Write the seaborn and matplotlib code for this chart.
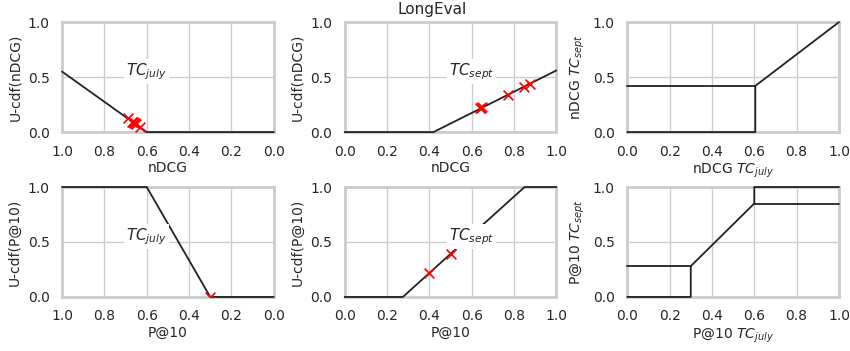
import matplotlib
matplotlib.use("Agg")
import matplotlib.pyplot as plt
import seaborn as sns
import pandas as pd

# U-cdf curves (vertices)
ndcg_july_x = [1.0, 0.6, 0.0]
ndcg_july_y = [0.55, 0.0, 0.0]
ndcg_july_pts_x = [0.69, 0.67, 0.665, 0.66, 0.655, 0.65, 0.63]
ndcg_july_pts_y = [0.125, 0.095, 0.09, 0.085, 0.08, 0.07, 0.045]

ndcg_sept_x = [0.0, 0.42, 1.0]
ndcg_sept_y = [0.0, 0.0, 0.56]
ndcg_sept_pts_x = [0.64, 0.645, 0.65, 0.77, 0.845, 0.875]
ndcg_sept_pts_y = [0.215, 0.22, 0.225, 0.335, 0.41, 0.44]

p10_july_x = [1.0, 0.6, 0.3, 0.0]
p10_july_y = [1.0, 1.0, 0.0, 0.0]
p10_july_pts_x = [0.3]
p10_july_pts_y = [0.0]

p10_sept_x = [0.0, 0.275, 0.85, 1.0]
p10_sept_y = [0.0, 0.0, 1.0, 1.0]
p10_sept_pts_x = [0.4, 0.5]
p10_sept_pts_y = [0.22, 0.39]

# july -> sept mappings
ndcg_map_a_x = [0.0, 0.605, 0.605, 1.0]
ndcg_map_a_y = [0.0, 0.0, 0.42, 1.0]
ndcg_map_b_x = [0.0, 0.605]
ndcg_map_b_y = [0.42, 0.42]

p10_map_a_x = [0.0, 0.3, 0.3, 0.6, 0.6, 1.0]
p10_map_a_y = [0.0, 0.0, 0.28, 0.85, 1.0, 1.0]
p10_map_b_x = [0.0, 0.3]
p10_map_b_y = [0.28, 0.28]
p10_map_c_x = [0.6, 1.0]
p10_map_c_y = [0.85, 0.85]

sns.set_theme(style="whitegrid")
plt.rcParams.update({
    "font.family": ["DejaVu Sans"],
    "font.size": 10,
    "axes.labelsize": 10,
    "xtick.labelsize": 10,
    "ytick.labelsize": 10,
    "axes.linewidth": 2.0,
    "axes.edgecolor": "#cccccc",
    "grid.color": "#cccccc",
    "grid.linewidth": 1.0,
})

fig, axes = plt.subplots(2, 3, figsize=(8.5, 3.51), dpi=100)
fig.subplots_adjust(left=0.073, right=0.987, top=0.937, bottom=0.154,
                    wspace=0.335, hspace=0.5)

line_kw = dict(color="#222222", linewidth=1.3, sort=False, estimator=None,
               zorder=3, clip_on=False)
pt_kw = dict(color="red", marker="x", s=50, linewidth=1.2, zorder=4)


def line(ax, xs, ys):
    sns.lineplot(data=pd.DataFrame({"x": xs, "y": ys}), x="x", y="y", ax=ax, **line_kw)


def pts(ax, xs, ys):
    sns.scatterplot(data=pd.DataFrame({"x": xs, "y": ys}), x="x", y="y", ax=ax, **pt_kw)


def label(ax, s):
    ax.text(0.6, 0.55, s, ha="center", va="center", fontsize=11, zorder=5,
            bbox=dict(facecolor="white", edgecolor="none", pad=1.5))


# top-left
ax = axes[0, 0]
line(ax, ndcg_july_x, ndcg_july_y)
pts(ax, ndcg_july_pts_x, ndcg_july_pts_y)
label(ax, r"$TC_{july}$")
ax.set_xlim(1.0, 0.0)
ax.set_xlabel("nDCG")
ax.set_ylabel("U-cdf(nDCG)")

# top-middle
ax = axes[0, 1]
line(ax, ndcg_sept_x, ndcg_sept_y)
pts(ax, ndcg_sept_pts_x, ndcg_sept_pts_y)
label(ax, r"$TC_{sept}$")
ax.set_xlim(0.0, 1.0)
ax.set_xlabel("nDCG")
ax.set_ylabel("U-cdf(nDCG)")

# top-right
ax = axes[0, 2]
line(ax, ndcg_map_a_x, ndcg_map_a_y)
line(ax, ndcg_map_b_x, ndcg_map_b_y)
ax.set_xlim(0.0, 1.0)
ax.set_xlabel(r"nDCG $TC_{july}$")
ax.set_ylabel(r"nDCG $TC_{sept}$")

# bottom-left
ax = axes[1, 0]
line(ax, p10_july_x, p10_july_y)
pts(ax, p10_july_pts_x, p10_july_pts_y)
label(ax, r"$TC_{july}$")
ax.set_xlim(1.0, 0.0)
ax.set_xlabel("P@10")
ax.set_ylabel("U-cdf(P@10)")

# bottom-middle
ax = axes[1, 1]
line(ax, p10_sept_x, p10_sept_y)
pts(ax, p10_sept_pts_x, p10_sept_pts_y)
label(ax, r"$TC_{sept}$")
ax.set_xlim(0.0, 1.0)
ax.set_xlabel("P@10")
ax.set_ylabel("U-cdf(P@10)")

# bottom-right
ax = axes[1, 2]
line(ax, p10_map_a_x, p10_map_a_y)
line(ax, p10_map_b_x, p10_map_b_y)
line(ax, p10_map_c_x, p10_map_c_y)
ax.set_xlim(0.0, 1.0)
ax.set_xlabel(r"P@10 $TC_{july}$")
ax.set_ylabel(r"P@10 $TC_{sept}$")

for ax in axes.flat:
    ax.set_ylim(0.0, 1.0)
    ax.set_yticks([0.0, 0.5, 1.0])
    ax.set_xticks([0.0, 0.2, 0.4, 0.6, 0.8, 1.0])
    ax.tick_params(pad=3)
    ax.xaxis.labelpad = 2
    ax.yaxis.labelpad = 4

fig.suptitle("LongEval", x=0.508, y=0.995, fontsize=11)

fig.savefig("out.png", dpi=100)
